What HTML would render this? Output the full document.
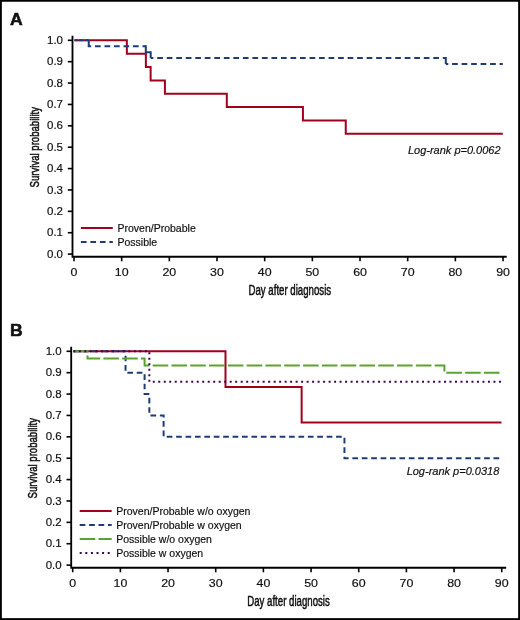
<!DOCTYPE html>
<html><head><meta charset="utf-8"><title>Survival curves</title><style>
html,body{margin:0;padding:0;background:#fff;}
svg{display:block;will-change:transform;}
</style></head><body>
<svg width="520" height="620" viewBox="0 0 520 620" font-family="&quot;Liberation Sans&quot;, sans-serif">
<rect x="0" y="0" width="520" height="620" fill="#fff"/>
<g fill="#111" stroke-width="0.2">
<path d="M74.50,40.30 H126.85 V53.66 H145.88 V67.02 H150.64 V80.39 H164.92 V93.75 H226.79 V107.11 H302.93 V120.47 H345.76 V133.84 H502.81" fill="none" stroke="#a3001e" stroke-width="2.0"/>
<path d="M74.4,40.30 H77.8 M79.2,40.30 H83.9 M85.3,40.30 H88.78" fill="none" stroke="#1e3c78" stroke-width="2.0"/>
<path d="M88.78,40.10 V46.24 M145.80,45.24 V52.18 H150.70 V58.12 M445.80,57.12 V63.88" fill="none" stroke="#1e3c78" stroke-width="2.0"/>
<path d="M87.78,46.24 H145.80" fill="none" stroke="#1e3c78" stroke-width="2.0" stroke-dasharray="5.7 3.80" stroke-dashoffset="2.28"/>
<path d="M150.70,58.12 H445.80" fill="none" stroke="#1e3c78" stroke-width="2.0" stroke-dasharray="5.7 3.82" stroke-dashoffset="3.02"/>
<path d="M445.80,63.88 H502.81" fill="none" stroke="#1e3c78" stroke-width="2.0" stroke-dasharray="5.7 3.80" stroke-dashoffset="3.20"/>
<text transform="translate(10.00,24.60) scale(1.04,1)" font-size="16.9" font-weight="bold" stroke="#111" stroke-width="0.55">A</text>
<path d="M72.5,35.8 V257.59999999999997 M71.6,256.7 H506.7" stroke="#000" stroke-width="1.85" fill="none"/>
<path d="M67.8,254.10 H72.5" stroke="#000" stroke-width="1.6"/>
<text transform="translate(63.00,257.70) scale(1.045,1)" font-size="11" text-anchor="end" stroke="#111" stroke-width="0.18">0.0</text>
<path d="M67.8,232.72 H72.5" stroke="#000" stroke-width="1.6"/>
<text transform="translate(63.00,236.32) scale(1.045,1)" font-size="11" text-anchor="end" stroke="#111" stroke-width="0.18">0.1</text>
<path d="M67.8,211.34 H72.5" stroke="#000" stroke-width="1.6"/>
<text transform="translate(63.00,214.94) scale(1.045,1)" font-size="11" text-anchor="end" stroke="#111" stroke-width="0.18">0.2</text>
<path d="M67.8,189.96 H72.5" stroke="#000" stroke-width="1.6"/>
<text transform="translate(63.00,193.56) scale(1.045,1)" font-size="11" text-anchor="end" stroke="#111" stroke-width="0.18">0.3</text>
<path d="M67.8,168.58 H72.5" stroke="#000" stroke-width="1.6"/>
<text transform="translate(63.00,172.18) scale(1.045,1)" font-size="11" text-anchor="end" stroke="#111" stroke-width="0.18">0.4</text>
<path d="M67.8,147.20 H72.5" stroke="#000" stroke-width="1.6"/>
<text transform="translate(63.00,150.80) scale(1.045,1)" font-size="11" text-anchor="end" stroke="#111" stroke-width="0.18">0.5</text>
<path d="M67.8,125.82 H72.5" stroke="#000" stroke-width="1.6"/>
<text transform="translate(63.00,129.42) scale(1.045,1)" font-size="11" text-anchor="end" stroke="#111" stroke-width="0.18">0.6</text>
<path d="M67.8,104.44 H72.5" stroke="#000" stroke-width="1.6"/>
<text transform="translate(63.00,108.04) scale(1.045,1)" font-size="11" text-anchor="end" stroke="#111" stroke-width="0.18">0.7</text>
<path d="M67.8,83.06 H72.5" stroke="#000" stroke-width="1.6"/>
<text transform="translate(63.00,86.66) scale(1.045,1)" font-size="11" text-anchor="end" stroke="#111" stroke-width="0.18">0.8</text>
<path d="M67.8,61.68 H72.5" stroke="#000" stroke-width="1.6"/>
<text transform="translate(63.00,65.28) scale(1.045,1)" font-size="11" text-anchor="end" stroke="#111" stroke-width="0.18">0.9</text>
<path d="M67.8,40.30 H72.5" stroke="#000" stroke-width="1.6"/>
<text transform="translate(63.00,43.90) scale(1.045,1)" font-size="11" text-anchor="end" stroke="#111" stroke-width="0.18">1.0</text>
<path d="M74.00,256.7 V261.3" stroke="#000" stroke-width="1.6"/>
<text transform="translate(74.00,275.90) scale(1.08,1)" font-size="11.5" text-anchor="middle" stroke="#111" stroke-width="0.18">0</text>
<path d="M121.67,256.7 V261.3" stroke="#000" stroke-width="1.6"/>
<text transform="translate(121.67,275.90) scale(1.08,1)" font-size="11.5" text-anchor="middle" stroke="#111" stroke-width="0.18">10</text>
<path d="M169.34,256.7 V261.3" stroke="#000" stroke-width="1.6"/>
<text transform="translate(169.34,275.90) scale(1.08,1)" font-size="11.5" text-anchor="middle" stroke="#111" stroke-width="0.18">20</text>
<path d="M217.01,256.7 V261.3" stroke="#000" stroke-width="1.6"/>
<text transform="translate(217.01,275.90) scale(1.08,1)" font-size="11.5" text-anchor="middle" stroke="#111" stroke-width="0.18">30</text>
<path d="M264.68,256.7 V261.3" stroke="#000" stroke-width="1.6"/>
<text transform="translate(264.68,275.90) scale(1.08,1)" font-size="11.5" text-anchor="middle" stroke="#111" stroke-width="0.18">40</text>
<path d="M312.35,256.7 V261.3" stroke="#000" stroke-width="1.6"/>
<text transform="translate(312.35,275.90) scale(1.08,1)" font-size="11.5" text-anchor="middle" stroke="#111" stroke-width="0.18">50</text>
<path d="M360.02,256.7 V261.3" stroke="#000" stroke-width="1.6"/>
<text transform="translate(360.02,275.90) scale(1.08,1)" font-size="11.5" text-anchor="middle" stroke="#111" stroke-width="0.18">60</text>
<path d="M407.69,256.7 V261.3" stroke="#000" stroke-width="1.6"/>
<text transform="translate(407.69,275.90) scale(1.08,1)" font-size="11.5" text-anchor="middle" stroke="#111" stroke-width="0.18">70</text>
<path d="M455.36,256.7 V261.3" stroke="#000" stroke-width="1.6"/>
<text transform="translate(455.36,275.90) scale(1.08,1)" font-size="11.5" text-anchor="middle" stroke="#111" stroke-width="0.18">80</text>
<path d="M503.03,256.7 V261.3" stroke="#000" stroke-width="1.6"/>
<text transform="translate(503.03,275.90) scale(1.08,1)" font-size="11.5" text-anchor="middle" stroke="#111" stroke-width="0.18">90</text>
<text transform="translate(289.80,294.60) scale(0.695,1)" font-size="13.9" text-anchor="middle" stroke="#111" stroke-width="0.5">Day after diagnosis</text>
<text transform="translate(38.70,147.20) rotate(-90) scale(0.728,1)" text-anchor="middle" font-size="13.2" stroke="#111" stroke-width="0.5">Survival probability</text>
<text transform="translate(500.60,153.75)" font-size="11" text-anchor="end" font-style="italic" stroke="#111" stroke-width="0.18">Log-rank p=0.0062</text>
<path d="M80.9,228 H112.8" fill="none" stroke="#a3001e" stroke-width="2.0"/>
<text transform="translate(117.50,231.60)" font-size="10.5" stroke="#111" stroke-width="0.18">Proven/Probable</text>
<path d="M80.9,242 H112.8" fill="none" stroke="#1e3c78" stroke-width="2.0" stroke-dasharray="5.7 3.80"/>
<text transform="translate(117.50,245.60)" font-size="10.5" stroke="#111" stroke-width="0.18">Possible</text>
<path d="M73.20,351.30 H225.49 V386.93 H301.63 V422.57 H501.51" fill="none" stroke="#a3001e" stroke-width="2.0"/>
<path d="M73.20,351.30 H125.55 V372.68 H144.59 V394.06 H149.34 V415.44 H163.62 V436.82 H344.46 V458.20 H501.51" fill="none" stroke="#1e3c78" stroke-width="2.0" stroke-dasharray="5.7 3.71" stroke-dashoffset="9.17"/>
<path d="M73.20,351.30 H87.48 V358.43 H144.59 V365.55 H444.40 V372.68 H501.51" fill="none" stroke="#5ca32c" stroke-width="2.0" stroke-dasharray="15.6 3.20" stroke-dashoffset="0.30"/>
<path d="M73.20,351.30 H149.34 V381.84 H501.51" fill="none" stroke="#3c0652" stroke-width="2.0" stroke-dasharray="2.0 3.495" stroke-dashoffset="5.29"/>
<text transform="translate(10.00,335.60) scale(1.04,1)" font-size="16.9" font-weight="bold" stroke="#111" stroke-width="0.55">B</text>
<path d="M71.2,346.8 V568.6 M70.3,567.7 H506.2" stroke="#000" stroke-width="1.85" fill="none"/>
<path d="M66.5,565.10 H71.2" stroke="#000" stroke-width="1.6"/>
<text transform="translate(61.70,568.70) scale(1.045,1)" font-size="11" text-anchor="end" stroke="#111" stroke-width="0.18">0.0</text>
<path d="M66.5,543.72 H71.2" stroke="#000" stroke-width="1.6"/>
<text transform="translate(61.70,547.32) scale(1.045,1)" font-size="11" text-anchor="end" stroke="#111" stroke-width="0.18">0.1</text>
<path d="M66.5,522.34 H71.2" stroke="#000" stroke-width="1.6"/>
<text transform="translate(61.70,525.94) scale(1.045,1)" font-size="11" text-anchor="end" stroke="#111" stroke-width="0.18">0.2</text>
<path d="M66.5,500.96 H71.2" stroke="#000" stroke-width="1.6"/>
<text transform="translate(61.70,504.56) scale(1.045,1)" font-size="11" text-anchor="end" stroke="#111" stroke-width="0.18">0.3</text>
<path d="M66.5,479.58 H71.2" stroke="#000" stroke-width="1.6"/>
<text transform="translate(61.70,483.18) scale(1.045,1)" font-size="11" text-anchor="end" stroke="#111" stroke-width="0.18">0.4</text>
<path d="M66.5,458.20 H71.2" stroke="#000" stroke-width="1.6"/>
<text transform="translate(61.70,461.80) scale(1.045,1)" font-size="11" text-anchor="end" stroke="#111" stroke-width="0.18">0.5</text>
<path d="M66.5,436.82 H71.2" stroke="#000" stroke-width="1.6"/>
<text transform="translate(61.70,440.42) scale(1.045,1)" font-size="11" text-anchor="end" stroke="#111" stroke-width="0.18">0.6</text>
<path d="M66.5,415.44 H71.2" stroke="#000" stroke-width="1.6"/>
<text transform="translate(61.70,419.04) scale(1.045,1)" font-size="11" text-anchor="end" stroke="#111" stroke-width="0.18">0.7</text>
<path d="M66.5,394.06 H71.2" stroke="#000" stroke-width="1.6"/>
<text transform="translate(61.70,397.66) scale(1.045,1)" font-size="11" text-anchor="end" stroke="#111" stroke-width="0.18">0.8</text>
<path d="M66.5,372.68 H71.2" stroke="#000" stroke-width="1.6"/>
<text transform="translate(61.70,376.28) scale(1.045,1)" font-size="11" text-anchor="end" stroke="#111" stroke-width="0.18">0.9</text>
<path d="M66.5,351.30 H71.2" stroke="#000" stroke-width="1.6"/>
<text transform="translate(61.70,354.90) scale(1.045,1)" font-size="11" text-anchor="end" stroke="#111" stroke-width="0.18">1.0</text>
<path d="M72.70,567.7 V572.3" stroke="#000" stroke-width="1.6"/>
<text transform="translate(72.70,586.90) scale(1.08,1)" font-size="11.5" text-anchor="middle" stroke="#111" stroke-width="0.18">0</text>
<path d="M120.37,567.7 V572.3" stroke="#000" stroke-width="1.6"/>
<text transform="translate(120.37,586.90) scale(1.08,1)" font-size="11.5" text-anchor="middle" stroke="#111" stroke-width="0.18">10</text>
<path d="M168.04,567.7 V572.3" stroke="#000" stroke-width="1.6"/>
<text transform="translate(168.04,586.90) scale(1.08,1)" font-size="11.5" text-anchor="middle" stroke="#111" stroke-width="0.18">20</text>
<path d="M215.71,567.7 V572.3" stroke="#000" stroke-width="1.6"/>
<text transform="translate(215.71,586.90) scale(1.08,1)" font-size="11.5" text-anchor="middle" stroke="#111" stroke-width="0.18">30</text>
<path d="M263.38,567.7 V572.3" stroke="#000" stroke-width="1.6"/>
<text transform="translate(263.38,586.90) scale(1.08,1)" font-size="11.5" text-anchor="middle" stroke="#111" stroke-width="0.18">40</text>
<path d="M311.05,567.7 V572.3" stroke="#000" stroke-width="1.6"/>
<text transform="translate(311.05,586.90) scale(1.08,1)" font-size="11.5" text-anchor="middle" stroke="#111" stroke-width="0.18">50</text>
<path d="M358.72,567.7 V572.3" stroke="#000" stroke-width="1.6"/>
<text transform="translate(358.72,586.90) scale(1.08,1)" font-size="11.5" text-anchor="middle" stroke="#111" stroke-width="0.18">60</text>
<path d="M406.39,567.7 V572.3" stroke="#000" stroke-width="1.6"/>
<text transform="translate(406.39,586.90) scale(1.08,1)" font-size="11.5" text-anchor="middle" stroke="#111" stroke-width="0.18">70</text>
<path d="M454.06,567.7 V572.3" stroke="#000" stroke-width="1.6"/>
<text transform="translate(454.06,586.90) scale(1.08,1)" font-size="11.5" text-anchor="middle" stroke="#111" stroke-width="0.18">80</text>
<path d="M501.73,567.7 V572.3" stroke="#000" stroke-width="1.6"/>
<text transform="translate(501.73,586.90) scale(1.08,1)" font-size="11.5" text-anchor="middle" stroke="#111" stroke-width="0.18">90</text>
<text transform="translate(288.50,605.60) scale(0.695,1)" font-size="13.9" text-anchor="middle" stroke="#111" stroke-width="0.5">Day after diagnosis</text>
<text transform="translate(37.40,458.20) rotate(-90) scale(0.728,1)" text-anchor="middle" font-size="13.2" stroke="#111" stroke-width="0.5">Survival probability</text>
<text transform="translate(499.30,474.80)" font-size="11" text-anchor="end" font-style="italic" stroke="#111" stroke-width="0.18">Log-rank p=0.0318</text>
<path d="M79.7,510.9 H111.7" fill="none" stroke="#a3001e" stroke-width="2.0"/>
<text transform="translate(116.20,514.50)" font-size="10.5" stroke="#111" stroke-width="0.18">Proven/Probable w/o oxygen</text>
<path d="M79.7,524.9 H111.7" fill="none" stroke="#1e3c78" stroke-width="2.0" stroke-dasharray="5.7 3.71"/>
<text transform="translate(116.20,528.50)" font-size="10.5" stroke="#111" stroke-width="0.18">Proven/Probable w oxygen</text>
<path d="M79.7,538.9 H111.7" fill="none" stroke="#5ca32c" stroke-width="2.0" stroke-dasharray="15.6 3.20"/>
<text transform="translate(116.20,542.50)" font-size="10.5" stroke="#111" stroke-width="0.18">Possible w/o oxygen</text>
<path d="M79.7,552.9 H111.7" fill="none" stroke="#3c0652" stroke-width="2.0" stroke-dasharray="2.0 3.6"/>
<text transform="translate(116.20,556.50)" font-size="10.5" stroke="#111" stroke-width="0.18">Possible w oxygen</text>
</g>
<rect x="0.9" y="0.8" width="518.2" height="618.3" fill="none" stroke="#000" stroke-width="1.9"/>
</svg>
</body></html>
